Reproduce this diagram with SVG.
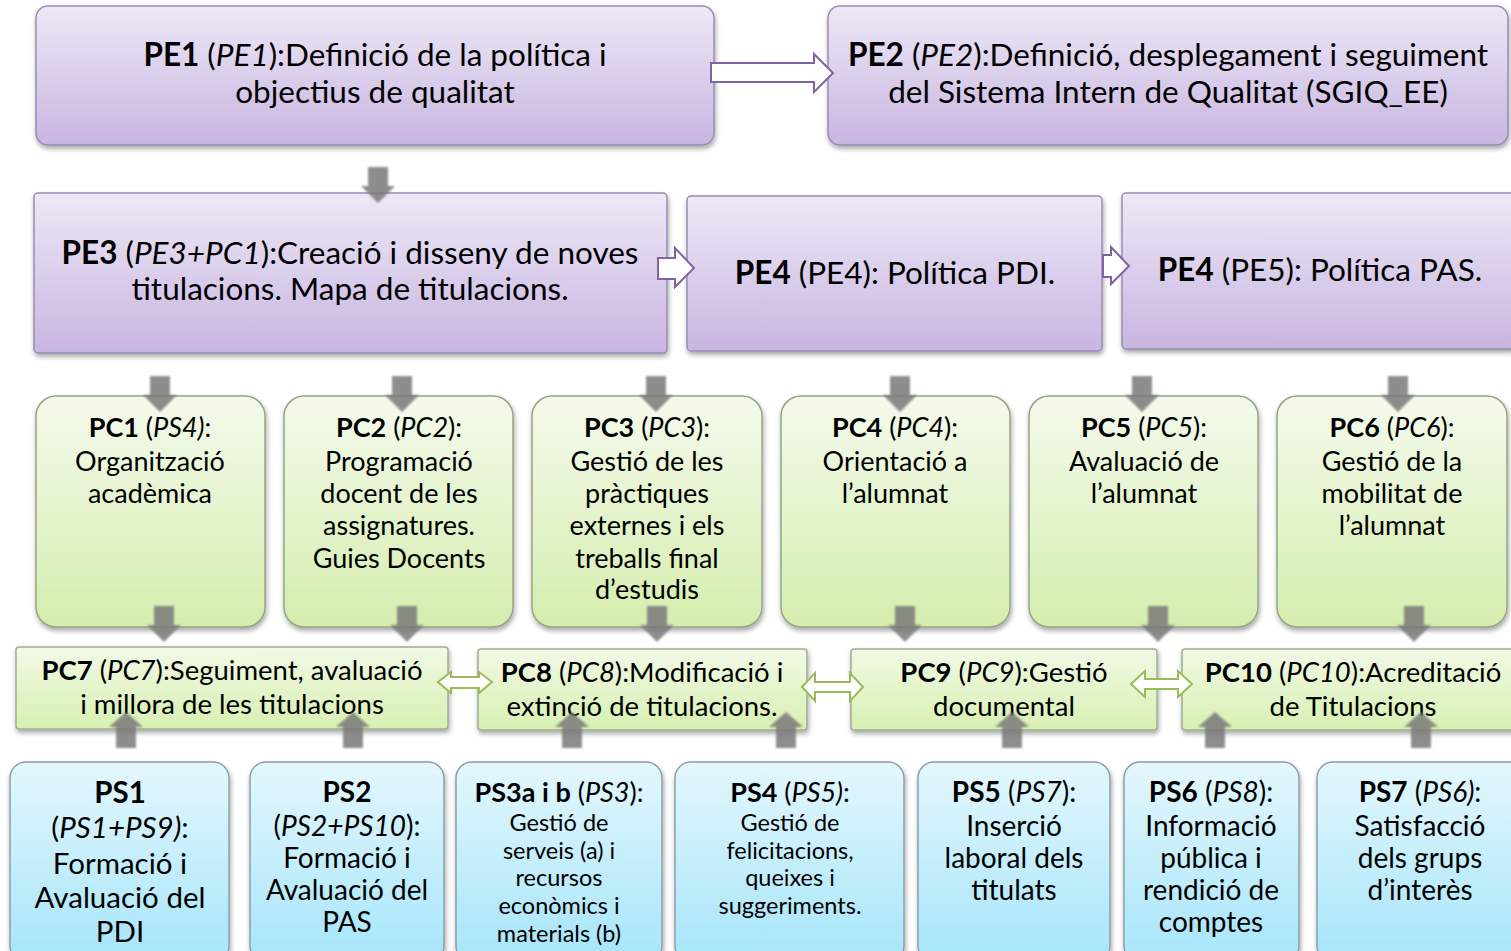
<svg xmlns="http://www.w3.org/2000/svg" width="1511" height="951" viewBox="0 0 1511 951">
<defs>
<linearGradient id="gPurple" x1="0" y1="0" x2="0" y2="1"><stop offset="0" stop-color="#eee8f6"/><stop offset="1" stop-color="#c8b5e1"/></linearGradient>
<linearGradient id="gGreen" x1="0" y1="0" x2="0" y2="1"><stop offset="0" stop-color="#f4faec"/><stop offset="1" stop-color="#d5edae"/></linearGradient>
<linearGradient id="gGreen2" x1="0" y1="0" x2="0" y2="1"><stop offset="0" stop-color="#f1f9e5"/><stop offset="1" stop-color="#d8f0b2"/></linearGradient>
<linearGradient id="gBlue" x1="0" y1="0" x2="0" y2="1"><stop offset="0" stop-color="#e4f7fd"/><stop offset="1" stop-color="#a5e5fa"/></linearGradient>
<filter id="sh" x="-10%" y="-10%" width="120%" height="130%"><feDropShadow dx="1" dy="3" stdDeviation="2.5" flood-color="#000" flood-opacity="0.35"/></filter>
<filter id="soft" x="-30%" y="-30%" width="160%" height="160%"><feGaussianBlur stdDeviation="0.8"/></filter>
<path id="down" d="M-10,0 H10 V19 H17 L0,36 L-17,19 H-10 Z"/>
<path id="up" d="M-10,36 H10 V15 H17 L0,0 L-17,15 H-10 Z"/>
</defs>
<style>
text{font-family:Lato,"Open Sans","Liberation Sans",sans-serif;fill:#000;text-anchor:middle}
.pe{fill:url(#gPurple);stroke:#9a8bb5;stroke-width:1.5;filter:url(#sh)}
.pc{fill:url(#gGreen);stroke:#96a585;stroke-width:1.5;filter:url(#sh)}
.pc2{fill:url(#gGreen2);stroke:#a0ad92;stroke-width:1.5;filter:url(#sh)}
.ps{fill:url(#gBlue);stroke:#8ba0ad;stroke-width:1.5;filter:url(#sh)}
.tpe{font-size:31.5px}
.tpc{font-size:27px}
.tpr{font-size:27.5px}
.tp1{font-size:29.5px}
.tp2{font-size:28px}
.tsm{font-size:23.5px}
.b{font-weight:bold}
.i{font-style:italic}
.ga{fill:#7a7a7a;opacity:0.85;filter:url(#soft)}
.pa{fill:#fff;stroke:#8064a2;stroke-width:2}
.gr{fill:#fff;stroke:#9bbb59;stroke-width:2}
</style>

<g id="PE1"><rect class="pe" x="36" y="6" width="678" height="139" rx="12"/>
<text class="tpe" x="375" y="66"><tspan class="b">PE1</tspan> (<tspan class="i">PE1</tspan>):Definició de la política i</text>
<text class="tpe" x="375" y="103">objectius de qualitat</text></g>

<g id="PE2"><rect class="pe" x="828" y="6" width="680" height="139" rx="12"/>
<text class="tpe" x="1168" y="66"><tspan class="b">PE2</tspan> (<tspan class="i">PE2</tspan>):Definició, desplegament i seguiment</text>
<text class="tpe" x="1168" y="103">del Sistema Intern de Qualitat (SGIQ_EE)</text></g>

<g id="PE3"><rect class="pe" x="34" y="193" width="633" height="160" rx="4"/>
<text class="tpe" x="350" y="264"><tspan class="b">PE3</tspan> (<tspan class="i">PE3+PC1</tspan>):Creació i disseny de noves</text>
<text class="tpe" x="350" y="300">titulacions. Mapa de titulacions.</text></g>

<g id="PE4"><rect class="pe" x="687" y="196" width="415" height="155" rx="4"/>
<text class="tpe" x="895" y="284"><tspan class="b">PE4</tspan> (PE4): Política PDI.</text></g>

<g id="PE5"><rect class="pe" x="1122" y="193" width="395" height="156" rx="4"/>
<text class="tpe" x="1320" y="281"><tspan class="b">PE4</tspan> (PE5): Política PAS.</text></g>

<g id="PC1"><rect class="pc" x="36" y="396" width="229" height="231" rx="20"/>
<text class="tpc" x="150" y="437"><tspan class="b">PC1</tspan> (<tspan class="i">PS4)</tspan>:</text>
<text class="tpc" x="150" y="471">Organització</text>
<text class="tpc" x="150" y="503">acadèmica</text></g>

<g id="PC2"><rect class="pc" x="284" y="396" width="229" height="231" rx="20"/>
<text class="tpc" x="399" y="437"><tspan class="b">PC2</tspan> (<tspan class="i">PC2</tspan>):</text>
<text class="tpc" x="399" y="471">Programació</text>
<text class="tpc" x="399" y="503">docent de les</text>
<text class="tpc" x="399" y="535">assignatures.</text>
<text class="tpc" x="399" y="568">Guies Docents</text></g>

<g id="PC3"><rect class="pc" x="532" y="396" width="230" height="231" rx="20"/>
<text class="tpc" x="647" y="437"><tspan class="b">PC3</tspan> (<tspan class="i">PC3</tspan>):</text>
<text class="tpc" x="647" y="471">Gestió de les</text>
<text class="tpc" x="647" y="503">pràctiques</text>
<text class="tpc" x="647" y="535">externes i els</text>
<text class="tpc" x="647" y="568">treballs final</text>
<text class="tpc" x="647" y="599">d’estudis</text></g>

<g id="PC4"><rect class="pc" x="781" y="396" width="229" height="231" rx="20"/>
<text class="tpc" x="895" y="437"><tspan class="b">PC4</tspan> (<tspan class="i">PC4</tspan>):</text>
<text class="tpc" x="895" y="471">Orientació a</text>
<text class="tpc" x="895" y="503">l’alumnat</text></g>

<g id="PC5"><rect class="pc" x="1029" y="396" width="229" height="231" rx="20"/>
<text class="tpc" x="1144" y="437"><tspan class="b">PC5</tspan> (<tspan class="i">PC5</tspan>):</text>
<text class="tpc" x="1144" y="471">Avaluació de</text>
<text class="tpc" x="1144" y="503">l’alumnat</text></g>

<g id="PC6"><rect class="pc" x="1277" y="396" width="230" height="231" rx="20"/>
<text class="tpc" x="1392" y="437"><tspan class="b">PC6</tspan> (<tspan class="i">PC6</tspan>):</text>
<text class="tpc" x="1392" y="471">Gestió de la</text>
<text class="tpc" x="1392" y="503">mobilitat de</text>
<text class="tpc" x="1392" y="535">l’alumnat</text></g>

<g id="PC7"><rect class="pc2" x="16" y="647" width="432" height="82" rx="3"/>
<text class="tpr" x="232" y="680"><tspan class="b">PC7</tspan> (<tspan class="i">PC7</tspan>):Seguiment, avaluació</text>
<text class="tpr" x="232" y="714">i millora de les titulacions</text></g>

<g id="PC8"><rect class="pc2" x="478" y="649" width="329" height="81" rx="3"/>
<text class="tpr" x="642" y="682"><tspan class="b">PC8</tspan> (<tspan class="i">PC8</tspan>):Modificació i</text>
<text class="tpr" x="642" y="716">extinció de titulacions.</text></g>

<g id="PC9"><rect class="pc2" x="851" y="649" width="306" height="81" rx="3"/>
<text class="tpr" x="1004" y="682"><tspan class="b">PC9</tspan> (<tspan class="i">PC9</tspan>):Gestió</text>
<text class="tpr" x="1004" y="716">documental</text></g>

<g id="PC10"><rect class="pc2" x="1182" y="649" width="335" height="81" rx="3"/>
<text class="tpr" x="1353" y="682"><tspan class="b">PC10</tspan> (<tspan class="i">PC10</tspan>):Acreditació</text>
<text class="tpr" x="1353" y="716">de Titulacions</text></g>

<g id="PS1"><rect class="ps" x="10" y="762" width="219" height="200" rx="16"/>
<text class="tp1" x="120" y="803"><tspan class="b">PS1</tspan></text>
<text class="tp1" x="120" y="838">(<tspan class="i">PS1+PS9)</tspan>:</text>
<text class="tp1" x="120" y="874">Formació i</text>
<text class="tp1" x="120" y="908">Avaluació del</text>
<text class="tp1" x="120" y="942">PDI</text></g>

<g id="PS2"><rect class="ps" x="250" y="762" width="194" height="200" rx="16"/>
<text class="tp2" x="347" y="802"><tspan class="b">PS2</tspan></text>
<text class="tp2" x="347" y="836">(<tspan class="i">PS2+PS10</tspan>):</text>
<text class="tp2" x="347" y="868">Formació i</text>
<text class="tp2" x="347" y="900">Avaluació del</text>
<text class="tp2" x="347" y="932">PAS</text></g>

<g id="PS3"><rect class="ps" x="456" y="762" width="206" height="200" rx="16"/>
<text class="tpc" x="559" y="802"><tspan class="b">PS3a i b</tspan> (<tspan class="i">PS3</tspan>):</text>
<text class="tsm" x="559" y="831">Gestió de</text>
<text class="tsm" x="559" y="859">serveis (a) i</text>
<text class="tsm" x="559" y="886">recursos</text>
<text class="tsm" x="559" y="914">econòmics i</text>
<text class="tsm" x="559" y="942">materials (b)</text></g>

<g id="PS4"><rect class="ps" x="675" y="762" width="229" height="200" rx="16"/>
<text class="tpc" x="790" y="802"><tspan class="b">PS4</tspan> (<tspan class="i">PS5)</tspan>:</text>
<text class="tsm" x="790" y="831">Gestió de</text>
<text class="tsm" x="790" y="859">felicitacions,</text>
<text class="tsm" x="790" y="886">queixes i</text>
<text class="tsm" x="790" y="914">suggeriments.</text></g>

<g id="PS5"><rect class="ps" x="918" y="762" width="192" height="200" rx="16"/>
<text class="tp2" x="1014" y="802"><tspan class="b">PS5</tspan> (<tspan class="i">PS7</tspan>):</text>
<text class="tp2" x="1014" y="836">Inserció</text>
<text class="tp2" x="1014" y="868">laboral dels</text>
<text class="tp2" x="1014" y="900">titulats</text></g>

<g id="PS6"><rect class="ps" x="1124" y="762" width="175" height="200" rx="16"/>
<text class="tp2" x="1211" y="802"><tspan class="b">PS6</tspan> (<tspan class="i">PS8</tspan>):</text>
<text class="tp2" x="1211" y="836">Informació</text>
<text class="tp2" x="1211" y="868">pública i</text>
<text class="tp2" x="1211" y="900">rendició de</text>
<text class="tp2" x="1211" y="932">comptes</text></g>

<g id="PS7"><rect class="ps" x="1317" y="762" width="210" height="200" rx="16"/>
<text class="tp2" x="1420" y="802"><tspan class="b">PS7</tspan> (<tspan class="i">PS6)</tspan>:</text>
<text class="tp2" x="1420" y="836">Satisfacció</text>
<text class="tp2" x="1420" y="868">dels grups</text>
<text class="tp2" x="1420" y="900">d’interès</text></g>

<g id="connectors">
<path class="pa" d="M711,63 H814 V54 L833,73 L814,92 V82 H711 Z"/>
<path class="pa" d="M658,258 H675 V248 L694,268 L675,287 V279 H658 Z"/>
<path class="pa" d="M1103,255 H1111 V247 L1129,266 L1111,284 V277 H1103 Z"/>
<use class="ga" href="#down" x="378" y="167"/>
<use class="ga" href="#down" x="160" y="376"/>
<use class="ga" href="#down" x="402" y="376"/>
<use class="ga" href="#down" x="656" y="376"/>
<use class="ga" href="#down" x="900" y="376"/>
<use class="ga" href="#down" x="1142" y="376"/>
<use class="ga" href="#down" x="1398" y="376"/>
<use class="ga" href="#down" x="164" y="606"/>
<use class="ga" href="#down" x="407" y="606"/>
<use class="ga" href="#down" x="657" y="606"/>
<use class="ga" href="#down" x="905" y="606"/>
<use class="ga" href="#down" x="1158" y="606"/>
<use class="ga" href="#down" x="1414" y="606"/>
<use class="ga" href="#up" x="126" y="712"/>
<use class="ga" href="#up" x="353" y="712"/>
<use class="ga" href="#up" x="572" y="712"/>
<use class="ga" href="#up" x="786" y="712"/>
<use class="ga" href="#up" x="1012" y="712"/>
<use class="ga" href="#up" x="1215" y="712"/>
<use class="ga" href="#up" x="1421" y="712"/>
<path class="gr" d="M438,682 L451,672 V677 H479 V672 L492,682 L479,693 V688 H451 V693 Z"/>
<path class="gr" d="M802,687 L815,673 V682 H850 V673 L863,687 L850,701 V692 H815 V701 Z"/>
<path class="gr" d="M1131,684 L1145,671 V679 H1178 V671 L1192,684 L1178,697 V689 H1145 V697 Z"/>
</g>
</svg>
